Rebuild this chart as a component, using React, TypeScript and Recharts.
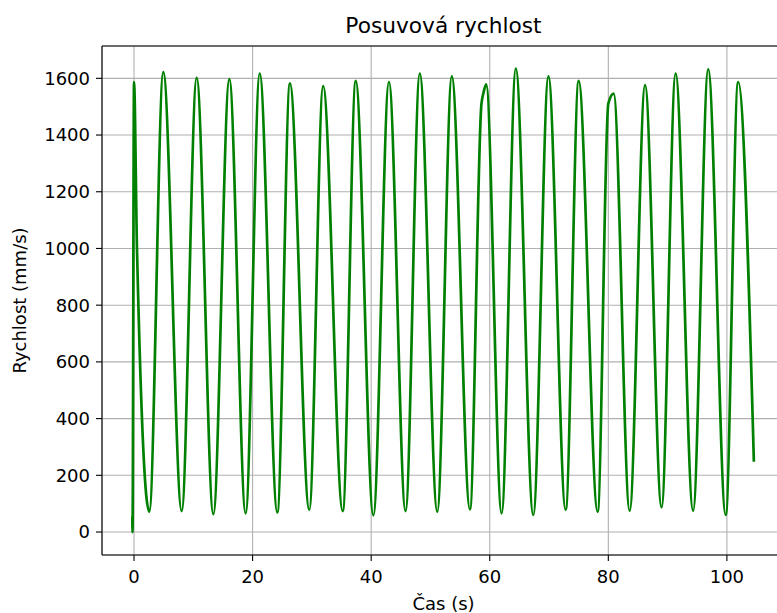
import { LineChart, Line, XAxis, YAxis, CartesianGrid, ReferenceLine } from 'recharts';

// čas (s) - start, pak střídavě minima a maxima, konec
const TIME = [
  -0.28, -0.25, 0, 0.5,
  2.58, 4.94, 8.04, 10.57, 13.38, 16.08, 18.83, 21.2, 24.17, 26.3,
  29.56, 31.9, 35.2, 37.4, 40.37, 43.0, 45.8, 48.2, 51.15, 53.6,
  56.66, 58.6, 58.9, 59.4, 62.0, 64.4, 67.34, 69.9, 72.8, 75.0, 78.2, 80.0, 80.9,
  83.6, 86.2, 88.98, 91.35, 94.3, 96.85, 99.8, 101.9,
  104.55,
];

// rychlost (mm/s)
const SPEED = [
  55, 0, 1587, 1000,
  72, 1622, 74, 1602, 63, 1597, 66, 1617, 69, 1582,
  78, 1573, 74, 1591, 59, 1587, 74, 1617, 72, 1607,
  80, 1510, 1545, 1579, 66, 1634, 60, 1607, 78, 1591, 72, 1511, 1546,
  75, 1576, 87, 1617, 75, 1632, 60, 1587,
  248,
];

const X_TICKS = [0, 20, 40, 60, 80, 100];
const Y_TICKS = [0, 200, 400, 600, 800, 1000, 1200, 1400, 1600];

const X_DOMAIN: [number, number] = [-5.4, 109.8];
const Y_DOMAIN: [number, number] = [-81, 1714];

const FONT = '"DejaVu Sans", sans-serif';
const TICK_FONT = { fill: '#000', fontSize: 18, fontFamily: FONT };

const data = TIME.map((t, i) => ({ t, v: SPEED[i] }));

export default function App() {
  return (
    <div
      style={{
        position: 'absolute',
        left: 0,
        top: 0,
        width: 777,
        height: 613,
        overflow: 'hidden',
        background: '#fff',
        fontFamily: FONT,
      }}
    >
      <LineChart
        width={800}
        height={613}
        data={data}
        margin={{ top: 46, right: 15, left: 42, bottom: 28 }}
      >
        <CartesianGrid stroke="#b0b0b0" strokeWidth={1.1} />
        <XAxis
          dataKey="t"
          type="number"
          domain={X_DOMAIN}
          ticks={X_TICKS}
          allowDataOverflow
          height={30}
          tickSize={6}
          tickMargin={9}
          tick={TICK_FONT}
          tickLine={{ stroke: '#000', strokeWidth: 1.1 }}
          axisLine={{ stroke: '#000', strokeWidth: 1.1 }}
        />
        <YAxis
          type="number"
          domain={Y_DOMAIN}
          ticks={Y_TICKS}
          allowDataOverflow
          width={60}
          tickSize={6}
          tickMargin={6}
          tick={TICK_FONT}
          tickLine={{ stroke: '#000', strokeWidth: 1.1 }}
          axisLine={{ stroke: '#000', strokeWidth: 1.1 }}
        />
        <ReferenceLine y={Y_DOMAIN[1]} stroke="#000" strokeWidth={1.1} />
        <Line
          dataKey="v"
          type="monotone"
          stroke="#008000"
          strokeWidth={2.7}
          dot={false}
          isAnimationActive={false}
        />
      </LineChart>
      <svg
        width={777}
        height={613}
        style={{ position: 'absolute', left: 0, top: 0, pointerEvents: 'none' }}
      >
        <text x={443.5} y={33} textAnchor="middle" fontSize={21.7} fontFamily={FONT} fill="#000">
          Posuvová rychlost
        </text>
        <text x={443.5} y={610} textAnchor="middle" fontSize={18} fontFamily={FONT} fill="#000">
          Čas (s)
        </text>
        <text
          x={0}
          y={0}
          transform="translate(26 300.5) rotate(-90)"
          textAnchor="middle"
          fontSize={18}
          fontFamily={FONT}
          fill="#000"
        >
          Rychlost (mm/s)
        </text>
      </svg>
    </div>
  );
}
